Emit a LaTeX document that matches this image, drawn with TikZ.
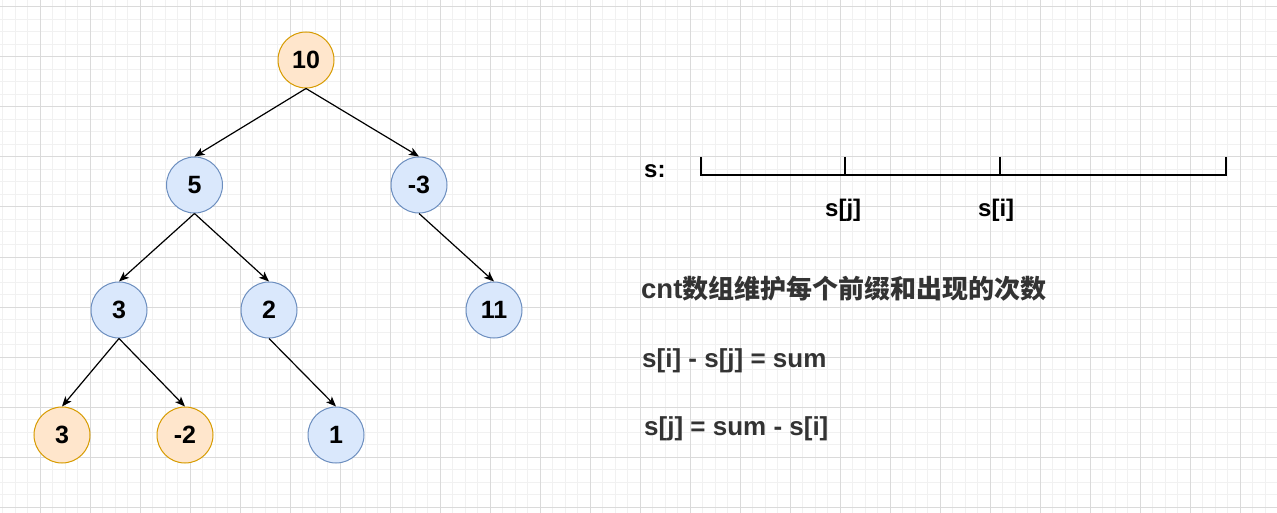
\documentclass[tikz,border=0pt]{standalone}
\usepackage{fontspec}
\setmainfont{Liberation Sans}
\newfontfamily\cjk{Noto Sans CJK SC}
\usetikzlibrary{arrows.meta}
\definecolor{gridminor}{HTML}{F1F1F1}
\definecolor{gridmajor}{HTML}{DADADA}
\definecolor{bluefill}{HTML}{DAE8FC}
\definecolor{bluedraw}{HTML}{6C8EBF}
\definecolor{orangefill}{HTML}{FFE6CC}
\definecolor{orangedraw}{HTML}{D79B00}
\definecolor{txtgray}{HTML}{333333}
\tikzset{
  treenode/.style={circle, minimum size=56pt, inner sep=0pt, line width=1pt,
    font=\fontsize{25pt}{30pt}\selectfont\bfseries, text=black},
  bluenode/.style={treenode, fill=bluefill, draw=bluedraw},
  orangenode/.style={treenode, fill=orangefill, draw=orangedraw},
  edge/.style={line width=1.2pt, draw=black, -{Stealth[length=10pt,width=8pt,inset=2.5pt]}},
  lbl/.style={anchor=base west, inner sep=0pt, text=black, font=\fontsize{24pt}{28pt}\selectfont\bfseries},
  eqn/.style={anchor=base west, inner sep=0pt, text=txtgray, font=\fontsize{26pt}{30pt}\selectfont\bfseries},
}
\begin{document}
\begin{tikzpicture}[x=1pt,y=-1pt]
\useasboundingbox (0,0) rectangle (1277,513);
\fill[white] (0,0) rectangle (1277,513);
% grid
\foreach \i in {0,...,102} {\draw[gridminor, line width=1pt] ({2.5+12.5*\i},0) -- ({2.5+12.5*\i},513);}
\foreach \i in {0,...,40} {\draw[gridminor, line width=1pt] (0,{7+12.5*\i}) -- (1277,{7+12.5*\i});}
\foreach \i in {0,...,24} {\draw[gridmajor, line width=1pt] ({40+50*\i},0) -- ({40+50*\i},513);}
\foreach \i in {0,...,10} {\draw[gridmajor, line width=1pt] (0,{7+50*\i}) -- (1277,{7+50*\i});}
% tree
\node[orangenode] (n10) at (306,60) {10};
\node[bluenode] (n5) at (194.5,185) {5};
\node[bluenode] (nm3) at (419,185) {-3};
\node[bluenode] (n3) at (119,310) {3};
\node[bluenode] (n2) at (269,310) {2};
\node[bluenode] (n11) at (494,310) {11};
\node[orangenode] (l3) at (62,435) {3};
\node[orangenode] (lm2) at (185,435) {-2};
\node[bluenode] (l1) at (336,435) {1};
\draw[edge] (n10.south) -- (n5.north);
\draw[edge] (n10.south) -- (nm3.north);
\draw[edge] (n5.south) -- (n3.north);
\draw[edge] (n5.south) -- (n2.north);
\draw[edge] (nm3.south) -- (n11.north);
\draw[edge] (n3.south) -- (l3.north);
\draw[edge] (n3.south) -- (lm2.north);
\draw[edge] (n2.south) -- (l1.north);
% prefix bar
\draw[line width=2.7pt, line cap=butt, line join=miter] (701,157) -- (701,175) -- (1226,175) -- (1226,157);
\draw[line width=2.7pt] (845,157) -- (845,175);
\draw[line width=2.7pt] (1000,157) -- (1000,175);
\node[lbl] (ts) at (644,178) {s:};
\node[lbl] (tsj) at (825,217) {s[j]};
\node[lbl] (tsi) at (978,217) {s[i]};
\node[eqn, font=\fontsize{27.5pt}{32pt}\selectfont\bfseries] (tcnt) at (641,298) {cnt{\cjk\bfseries\fontsize{26pt}{30pt}\selectfont 数组维护每个前缀和出现的次数}};
\node[eqn] (teq1) at (642,367) {s[i] - s[j] = sum};
\node[eqn] (teq2) at (644,435) {s[j] = sum - s[i]};
\end{tikzpicture}
\end{document}
